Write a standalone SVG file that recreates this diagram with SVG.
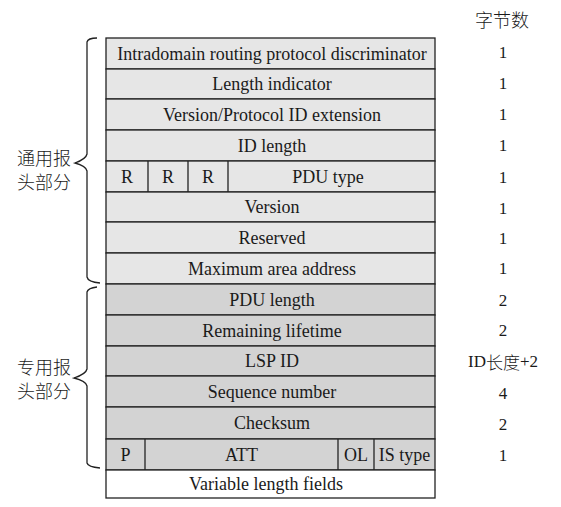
<svg xmlns="http://www.w3.org/2000/svg" width="561" height="507" viewBox="0 0 561 507">
<style>
text{font-family:'Liberation Serif','Times New Roman',serif;font-size:18px;fill:#1a1a1a;text-anchor:middle;dominant-baseline:central}
.num{font-size:17px}
.cjk{font-family:'Noto Sans CJK SC',sans-serif;font-size:18px;font-weight:300}
.l{fill:#e6e6e6;stroke:#222;stroke-width:1.3}
.d{fill:#d3d3d3;stroke:#222;stroke-width:1.3}
.w{fill:#fff;stroke:#222;stroke-width:1.3}
.v{stroke:#222;stroke-width:1.3}
.brace{fill:none;stroke:#222;stroke-width:1.3}
</style>
<rect width="561" height="507" fill="#fff"/>
<g id="f1"><rect class="l" x="106" y="38" width="329" height="31"/><text x="272" y="53.5">Intradomain routing protocol discriminator</text></g>
<g id="f2"><rect class="l" x="106" y="69" width="329" height="30"/><text x="272" y="84">Length indicator</text></g>
<g id="f3"><rect class="l" x="106" y="99" width="329" height="31"/><text x="272" y="114.5">Version/Protocol ID extension</text></g>
<g id="f4"><rect class="l" x="106" y="130" width="329" height="31"/><text x="272" y="145.5">ID length</text></g>
<g id="f5"><rect class="l" x="106" y="161" width="329" height="31"/>
<line class="v" x1="148" y1="161" x2="148" y2="192"/><line class="v" x1="188" y1="161" x2="188" y2="192"/><line class="v" x1="228" y1="161" x2="228" y2="192"/>
<text x="127" y="176.5">R</text><text x="168" y="176.5">R</text><text x="208" y="176.5">R</text><text x="328" y="176.5">PDU type</text></g>
<g id="f6"><rect class="l" x="106" y="192" width="329" height="30"/><text x="272" y="207">Version</text></g>
<g id="f7"><rect class="l" x="106" y="222" width="329" height="31"/><text x="272" y="237.5">Reserved</text></g>
<g id="f8"><rect class="l" x="106" y="253" width="329" height="31"/><text x="272" y="268.5">Maximum area address</text></g>
<g id="f9"><rect class="d" x="106" y="284" width="329" height="31"/><text x="272" y="299.5">PDU length</text></g>
<g id="f10"><rect class="d" x="106" y="315" width="329" height="31"/><text x="272" y="330.5">Remaining lifetime</text></g>
<g id="f11"><rect class="d" x="106" y="346" width="329" height="30"/><text x="272" y="361">LSP ID</text></g>
<g id="f12"><rect class="d" x="106" y="376" width="329" height="31"/><text x="272" y="391.5">Sequence number</text></g>
<g id="f13"><rect class="d" x="106" y="407" width="329" height="32"/><text x="272" y="423">Checksum</text></g>
<g id="f14"><rect class="d" x="106" y="439" width="329" height="31"/>
<line class="v" x1="145" y1="439" x2="145" y2="470"/><line class="v" x1="338" y1="439" x2="338" y2="470"/><line class="v" x1="374" y1="439" x2="374" y2="470"/>
<text x="125.5" y="454.5">P</text><text x="241.5" y="454.5">ATT</text><text x="356" y="454.5">OL</text><text x="404.5" y="454.5">IS type</text></g>
<g id="f15"><rect class="w" x="106" y="470" width="329" height="28"/><text x="266" y="484">Variable length fields</text></g>
<g id="connectors">
<path class="brace" d="M97,38 Q88,38 87,42 L87,154 Q86,159 75,163 Q86,166 87,171 L87,277 Q88,282 100,283"/>
<path class="brace" d="M97,287 Q88,288 87,292 L87,369 Q86,374 74,378 Q86,381 87,386 L87,463 Q88,467 100,468"/>
</g>
<g id="labels">
<text class="cjk" x="44" y="157">通用报</text>
<text class="cjk" x="44" y="181">头部分</text>
<text class="cjk" x="44" y="366">专用报</text>
<text class="cjk" x="44" y="390">头部分</text>
<text class="cjk" x="502" y="19">字节数</text>
<text class="num" x="503" y="52">1</text>
<text class="num" x="503" y="83">1</text>
<text class="num" x="503" y="114">1</text>
<text class="num" x="503" y="145">1</text>
<text class="num" x="503" y="177">1</text>
<text class="num" x="503" y="208">1</text>
<text class="num" x="503" y="238">1</text>
<text class="num" x="503" y="268">1</text>
<text class="num" x="503" y="300">2</text>
<text class="num" x="503" y="330">2</text>
<text class="num" x="503" y="361">ID<tspan style="font-family:'Noto Sans CJK SC',sans-serif;font-weight:300">长度</tspan>+2</text>
<text class="num" x="503" y="393">4</text>
<text class="num" x="503" y="424">2</text>
<text class="num" x="503" y="455">1</text>
</g>
</svg>
